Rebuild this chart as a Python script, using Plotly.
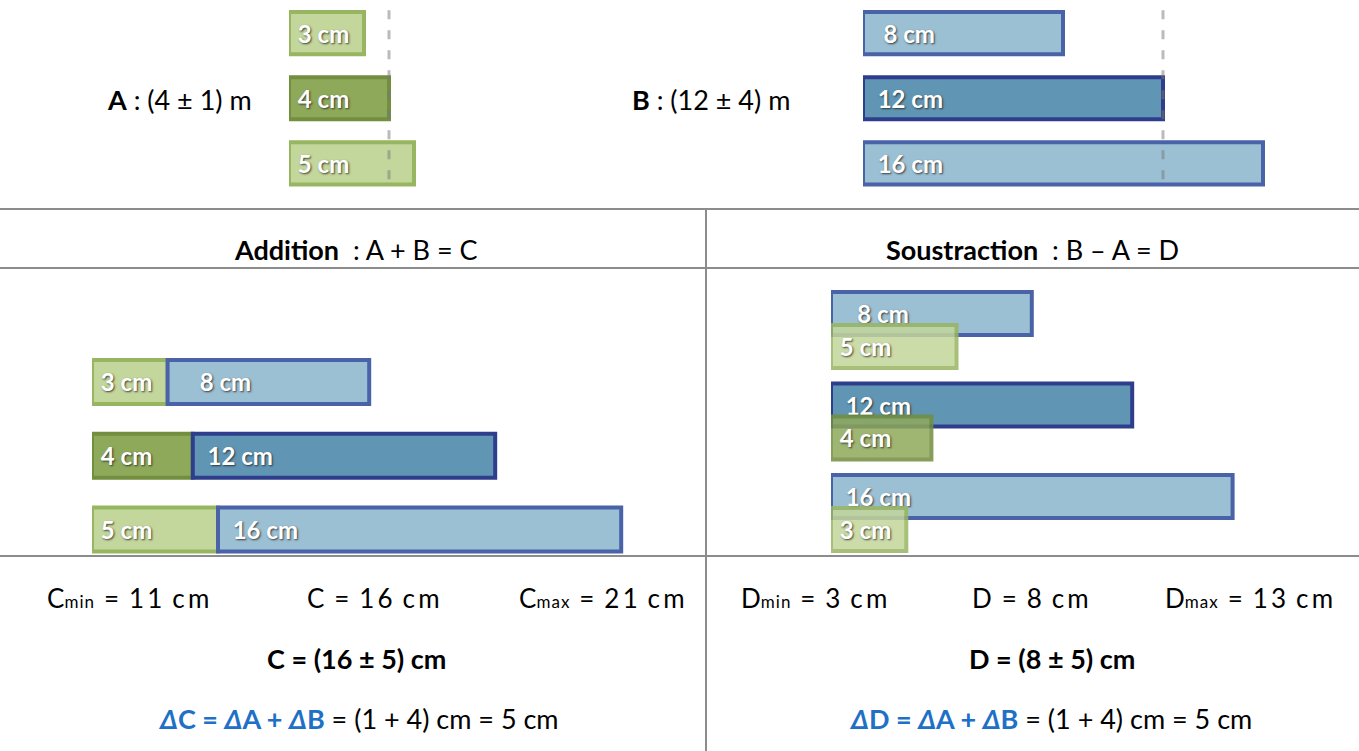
import plotly.graph_objects as go

# ---------------- data ----------------
A_values = [3, 4, 5]          # A_min, A, A_max (cm)
B_values = [8, 12, 16]        # B_min, B, B_max (cm)
A_central = 4
B_central = 12
A_labels = ["3 cm", "4 cm", "5 cm"]
B_labels = ["8 cm", "12 cm", "16 cm"]
rows = [0, 1, 2]
# subtraction pairs: B row i with A reversed
A_sub_values = [5, 4, 3]
A_sub_labels = ["5 cm", "4 cm", "3 cm"]

# ---------------- style ----------------
W, H = 1359, 751
FONT = "Lato"
LG_FILL, LG_LINE = "#c3d69b", "#98b561"
DG_FILL, DG_LINE = "#8fa95a", "#728e3e"
LB_FILL, LB_LINE = "#9bbfd3", "#4a62a8"
DB_FILL, DB_LINE = "#6096b4", "#2f3e8c"
GREEN_FILL = [LG_FILL, DG_FILL, LG_FILL]
GREEN_LINE = [LG_LINE, DG_LINE, LG_LINE]
BLUE_FILL = [LB_FILL, DB_FILL, LB_FILL]
BLUE_LINE = [LB_LINE, DB_LINE, LB_LINE]
BLUE_TXT = "#2070c6"
SEP = "#8c8c8c"
NB = "\u00a0"


def px_x(p):
    return p / W


def px_y(p):
    return 1 - p / H


label_font = dict(family=FONT, size=24, color="white", weight="bold",
                  shadow="1px 1px 2px rgba(30,30,30,0.8)")

fig = go.Figure()


def bars(x, base, fill, line, text, xa, ya, width, y, opacity=1.0, pad=""):
    fig.add_trace(go.Bar(
        x=x, y=y, base=base, orientation="h", width=width,
        marker=dict(color=fill, line=dict(color=line, width=4), opacity=opacity),
        text=[pad + t for t in text], textposition="inside",
        insidetextanchor="start", textangle=0, constraintext="none",
        cliponaxis=False,
        textfont=label_font, xaxis=xa, yaxis=ya, hoverinfo="skip",
    ))


# --- panel A (top left)
bars(A_values, [0, 0, 0], GREEN_FILL, GREEN_LINE, A_labels, "x", "y", 0.646, rows, pad=NB)
fig.add_trace(go.Scatter(x=[A_central, A_central], y=[-0.35, 2.35], mode="lines",
                         line=dict(color="rgba(120,120,120,0.5)", width=3, dash="9px,11px"),
                         xaxis="x", yaxis="y", hoverinfo="skip"))
# --- panel B (top right)
bars(B_values, [0, 0, 0], BLUE_FILL, BLUE_LINE,
     [NB + B_labels[0], B_labels[1], B_labels[2]], "x2", "y2", 0.646, rows, pad=NB * 2)
fig.add_trace(go.Scatter(x=[B_central, B_central], y=[-0.35, 2.35], mode="lines",
                         line=dict(color="rgba(120,120,120,0.5)", width=3, dash="9px,11px"),
                         xaxis="x2", yaxis="y2", hoverinfo="skip"))
# --- panel addition
bars(A_values, [0, 0, 0], GREEN_FILL, GREEN_LINE, A_labels, "x3", "y3", 0.597, rows, pad=NB)
bars(B_values, A_values, BLUE_FILL, BLUE_LINE,
     [NB * 3 + B_labels[0], B_labels[1], B_labels[2]], "x3", "y3", 0.597, rows, pad=NB * 2)
# --- panel subtraction
bars(B_values, [0, 0, 0], BLUE_FILL, BLUE_LINE,
     [NB * 2 + B_labels[0], B_labels[1], B_labels[2]], "x4", "y4", 0.47, rows, pad=NB * 2)
bars(A_sub_values, [0, 0, 0], [LG_FILL, DG_FILL, LG_FILL], [LG_LINE, DG_LINE, LG_LINE],
     A_sub_labels, "x4", "y4", 0.47, [r + 0.36 for r in rows], opacity=0.85, pad=NB)


def ax(origin, width_px, scale):
    return dict(domain=[px_x(origin), px_x(origin + width_px)], range=[0, width_px / scale],
                visible=False, fixedrange=True)


def ay(top, bottom, xa, rng=(2.5, -0.5)):
    return dict(domain=[px_y(bottom), px_y(top)], range=list(rng), visible=False,
                fixedrange=True, anchor=xa)


fig.update_layout(
    width=W, height=H, margin=dict(l=0, r=0, t=0, b=0),
    paper_bgcolor="white", plot_bgcolor="rgba(0,0,0,0)",
    showlegend=False, barmode="overlay",
    xaxis=dict(**ax(289, 150, 25.0), anchor="y"),
    yaxis=ay(0.5, 196, "x"),
    xaxis2=dict(**ax(863, 425, 25.0), anchor="y2"),
    yaxis2=ay(0.5, 196, "x2"),
    xaxis3=dict(**ax(92, 560, 25.2), anchor="y3"),
    yaxis3=ay(345.1, 566.4, "x3"),
    xaxis4=dict(**ax(831, 425, 25.1), anchor="y4"),
    yaxis4=ay(267.75, 588.0, "x4", (3.0, -0.5)),
)

# separators
shapes = []
for yy in (209, 268, 556):
    shapes.append(dict(type="line", xref="paper", yref="paper", x0=0, x1=1,
                       y0=px_y(yy), y1=px_y(yy), line=dict(color=SEP, width=2)))
shapes.append(dict(type="line", xref="paper", yref="paper", x0=px_x(706), x1=px_x(706),
                   y0=px_y(209), y1=0, line=dict(color=SEP, width=2)))
fig.update_layout(shapes=shapes)


def note(text, x, y, anchor="center", size=27, color="black"):
    fig.add_annotation(text=text, x=px_x(x), y=px_y(y), xref="paper", yref="paper",
                       xanchor=anchor, yanchor="middle", showarrow=False,
                       font=dict(family=FONT, size=size, color=color))


def sp(s):
    return "\u2009".join(s)


def small(s):
    return "<span style='font-size:17px'>" + "\u200a".join(s) + "</span>"


note("<b>A</b> : (4 ± 1) m", 105, 99, "left")
note("<b>B</b> : (12 ± 4) m", 630, 99, "left")
note("<b>Addition</b>  : A + B = C", 356, 249)
note("<b>Soustraction</b>  : B – A = D", 1032, 249)

BS = 26
G = "\u2009 = \u2009"
note("C" + small("min") + G + sp("11") + "\u2009 " + sp("cm"), 128, 598, size=BS)
note("C" + G + sp("16") + "\u2009 " + sp("cm"), 373, 598, size=BS)
note("C" + small("max") + G + sp("21") + "\u2009 " + sp("cm"), 602, 598, size=BS)
note("D" + small("min") + G + sp("3") + "\u2009 " + sp("cm"), 814, 598, size=BS)
note("D" + G + sp("8") + "\u2009 " + sp("cm"), 1030, 598, size=BS)
note("D" + small("max") + G + sp("13") + "\u2009 " + sp("cm"), 1249, 598, size=BS)

note("<b>C = (16 ± 5) cm</b>", 356, 658)
note("<b>D = (8 ± 5) cm</b>", 1052, 658)

blue = lambda s: f"<span style='color:{BLUE_TXT}'><b>{s}</b></span>"
note(blue("<i>Δ</i>C = <i>Δ</i>A + <i>Δ</i>B") + " = (1 + 4) cm = 5 cm", 358, 718)
note(blue("<i>Δ</i>D = <i>Δ</i>A + <i>Δ</i>B") + " = (1 + 4) cm = 5 cm", 1050, 718)

fig.write_html("out.html", config={"displayModeBar": False},
               post_script="document.body.style.margin='0';")
